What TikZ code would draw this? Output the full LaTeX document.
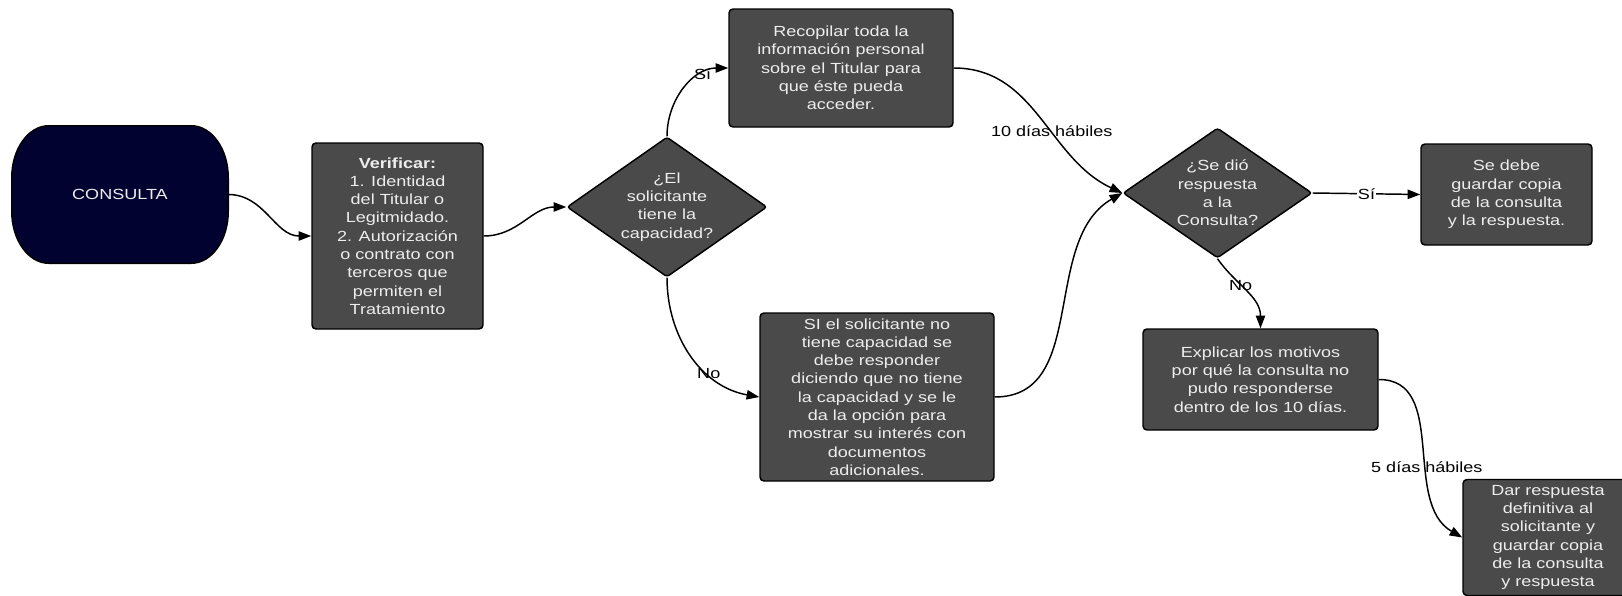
\documentclass[tikz,border=0pt]{standalone}
\usepackage{fontspec}
\setmainfont{Liberation Sans}[FakeStretch=1.23]
\usepackage{xcolor}
\usepackage{tikz}
\usetikzlibrary{arrows.meta, shapes.geometric, backgrounds}
\definecolor{grisCaja}{HTML}{4A4A4A}
\definecolor{azulNoche}{HTML}{020230}
\definecolor{textoClaro}{HTML}{EDEDED}
\tikzset{
    caja/.style={rectangle, rounded corners=3pt, draw=black, line width=1.1pt, fill=grisCaja, text=textoClaro, align=center, font=\fontsize{11}{13.7}\selectfont, inner sep=1pt},
    rombo/.style={diamond, rounded corners=2pt, draw=black, line width=1.1pt, fill=grisCaja, text=textoClaro, align=center, font=\fontsize{11}{13.7}\selectfont, inner sep=0pt},
    terminal/.style={rectangle, text=textoClaro, font=\fontsize{11}{13.7}\selectfont, minimum width=162pt, minimum height=102.75pt},
    contornoTerminal/.style={fill=azulNoche, draw=black, line width=1.1pt},
    flecha/.style={line width=1.1pt, -{Triangle[length=9.5pt, width=7pt]}},
    rotulo/.style={font=\fontsize{11}{13.7}\selectfont, text=black, inner sep=1pt}
}

\begin{document}
\begin{tikzpicture}[x=0.75pt, y=0.75pt]
    \useasboundingbox (0,0) rectangle (1622,-596);
    \node[terminal] (consulta) at (120,-194.5) {CONSULTA};
    \begin{scope}[on background layer]
        \draw[contornoTerminal] ([xshift=27.75pt]consulta.north west) -- ([xshift=-27.75pt]consulta.north east)
            arc[start angle=90, end angle=0, x radius=27.75pt, y radius=39pt] -- ([yshift=39pt]consulta.south east)
            arc[start angle=0, end angle=-90, x radius=27.75pt, y radius=39pt] -- ([xshift=27.75pt]consulta.south west)
            arc[start angle=270, end angle=180, x radius=27.75pt, y radius=39pt] -- ([yshift=-39pt]consulta.north west)
            arc[start angle=180, end angle=90, x radius=27.75pt, y radius=39pt] -- cycle;
    \end{scope}
    \node[caja, minimum width=128.25pt, minimum height=139.5pt] (verificar) at (397.5,-236) {\textbf{Verificar:}\\1. Identidad\\del Titular o\\Legitmidado.\\2. Autorización\\o contrato con\\terceros que\\permiten el\\Tratamiento};
    \node[rombo, shape aspect=1.43, minimum width=150pt, minimum height=105pt] (capacidad) at (667,-207) {¿El\\solicitante\\tiene la\\capacidad?};
    \node[caja, minimum width=168pt, minimum height=88.5pt] (recopilar) at (841,-68) {Recopilar toda la\\información personal\\sobre el Titular para\\que éste pueda\\acceder.};
    \node[caja, minimum width=175.5pt, minimum height=126pt] (sinCapacidad) at (877,-397) {SI el solicitante no\\tiene capacidad se\\debe responder\\diciendo que no tiene\\la capacidad y se le\\da la opción para\\mostrar su interés con\\documentos\\adicionales.};
    \node[rombo, shape aspect=1.45, minimum width=141.75pt, minimum height=97.5pt] (respuesta) at (1217.5,-193) {¿Se dió\\respuesta\\a la\\Consulta?};
    \node[caja, minimum width=128.25pt, minimum height=75.75pt] (guardar) at (1506.5,-194.5) {Se debe\\guardar copia\\de la consulta\\y la respuesta.};
    \node[caja, minimum width=176.25pt, minimum height=75.75pt] (explicar) at (1260.5,-379.5) {Explicar los motivos\\por qué la consulta no\\pudo responderse\\dentro de los 10 días.};
    \node[caja, minimum width=127.5pt, minimum height=87pt] (definitiva) at (1548,-537.5) {Dar respuesta\\definitiva al\\solicitante y\\guardar copia\\de la consulta\\y respuesta};

    \draw[flecha] (consulta.east) to[out=0, in=180] (verificar.west);
    \draw[flecha] (verificar.east) to[out=0, in=180] (capacidad.west);
    \draw[flecha] (capacidad.north) to[out=90, in=180] node[rotulo, pos=0.74] {Sí} (recopilar.west);
    \draw[flecha] (capacidad.south) to[out=-90, in=170] node[rotulo, pos=0.66] {No} (sinCapacidad.west);
    \draw[flecha] (recopilar.east) to[out=0, in=155] node[rotulo, pos=0.58] {10 días hábiles} (respuesta.west);
    \draw[flecha] (sinCapacidad.east) to[out=0, in=210] (respuesta.west);
    \draw[flecha] (respuesta.east) -- node[rotulo, fill=white] {Sí} (guardar.west);
    \draw[flecha] (respuesta.south) to[out=-55, in=90] node[rotulo, pos=0.4] {No} (explicar.north);
    \draw[flecha] (explicar.east) to[out=0, in=150] node[rotulo, pos=0.6] {5 días hábiles} (definitiva.west);
\end{tikzpicture}
\end{document}
